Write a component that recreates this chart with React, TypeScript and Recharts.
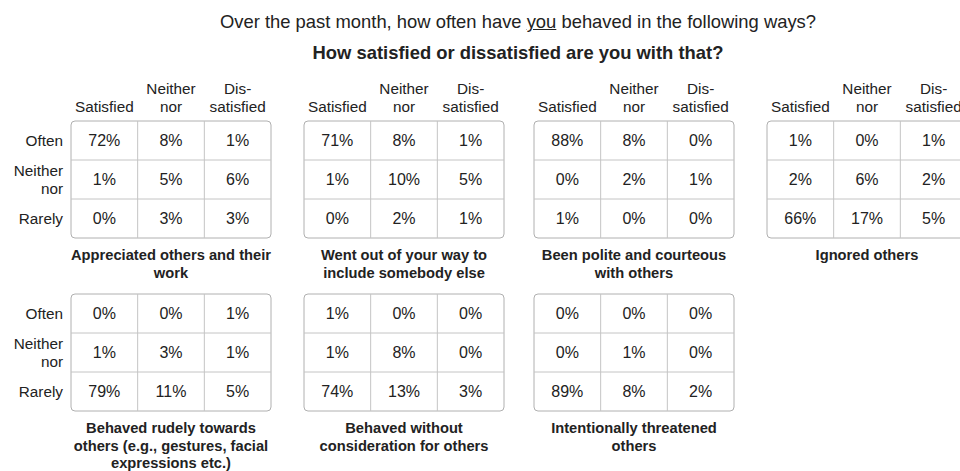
import React from "react";
import { ScatterChart, Scatter, XAxis, YAxis, ReferenceArea, ReferenceLine } from "recharts";

const columnLabels = ["Satisfied", "Neither nor", "Dis-satisfied"];
const columnLines = [["", "Satisfied"], ["Neither", "nor"], ["Dis-", "satisfied"]];
const rowLabels = ["Often", "Neither nor", "Rarely"];
const rowLines = [["Often"], ["Neither", "nor"], ["Rarely"]];

const appreciated = [[72, 8, 1], [1, 5, 6], [0, 3, 3]];
const includeSomebody = [[71, 8, 1], [1, 10, 5], [0, 2, 1]];
const polite = [[88, 8, 0], [0, 2, 1], [1, 0, 0]];
const ignored = [[1, 0, 1], [2, 6, 2], [66, 17, 5]];
const rude = [[0, 0, 1], [1, 3, 1], [79, 11, 5]];
const noConsideration = [[1, 0, 0], [1, 8, 0], [74, 13, 3]];
const threatened = [[0, 0, 0], [0, 1, 0], [89, 8, 2]];

const panelTitles = [
  ["Appreciated others and their", "work"],
  ["Went out of your way to", "include somebody else"],
  ["Been polite and courteous", "with others"],
  ["Ignored others"],
  ["Behaved rudely towards", "others (e.g., gestures, facial", "expressions etc.)"],
  ["Behaved without", "consideration for others"],
  ["Intentionally threatened", "others"],
];
const panelValues = [appreciated, includeSomebody, polite, ignored, rude, noConsideration, threatened];

const FONT = '"Liberation Sans", Arial, sans-serif';
const TEXT = "#222";
const BOX_LEFTS = [71, 304, 534, 767];
const BOX_TOPS = [121, 294];
const Y_AXIS_W = 71;
const HEADER_H = 60;
const PLOT_W = 200;
const PLOT_H = 117;
const LABEL_SIZE = 15.3;

function toCells(values: number[][]) {
  const out: { x: number; y: number; value: number; row: string; col: string }[] = [];
  values.forEach((r, ri) =>
    r.forEach((v, ci) => out.push({ x: ci + 0.5, y: ri + 0.5, value: v, row: rowLabels[ri], col: columnLabels[ci] }))
  );
  return out;
}

const CellText = (props: any) => {
  const { cx, cy, payload } = props;
  return (
    <text x={cx} y={cy} textAnchor="middle" dominantBaseline="central" fontSize={16} fill={TEXT} fontFamily={FONT}>
      {payload.value}%
    </text>
  );
};

function Panel({ idx, row, col, showHeader, showRows }: { idx: number; row: number; col: number; showHeader: boolean; showRows: boolean }) {
  const data = toCells(panelValues[idx]);
  const left = BOX_LEFTS[col] - Y_AXIS_W;
  const top = BOX_TOPS[row] - HEADER_H;
  const XTick = (p: any) => {
    if (!showHeader) return null;
    const i = Math.round(p.payload.value - 0.5);
    const lines = columnLines[i];
    return (
      <g>
        <text x={p.x} y={HEADER_H - 33} textAnchor="middle" dominantBaseline="central" fontSize={LABEL_SIZE} fill={TEXT} fontFamily={FONT}>{lines[0]}</text>
        <text x={p.x} y={HEADER_H - 15} textAnchor="middle" dominantBaseline="central" fontSize={LABEL_SIZE} fill={TEXT} fontFamily={FONT}>{lines[1]}</text>
      </g>
    );
  };
  const YTick = (p: any) => {
    if (!showRows) return null;
    const i = Math.round(p.payload.value - 0.5);
    const lines = rowLines[i];
    return (
      <g>
        {lines.map((l, k) => (
          <text key={k} x={Y_AXIS_W - 8} y={p.y + (k - (lines.length - 1) / 2) * 18} textAnchor="end" dominantBaseline="central" fontSize={LABEL_SIZE} fill={TEXT} fontFamily={FONT}>{l}</text>
        ))}
      </g>
    );
  };
  return (
    <div style={{ position: "absolute", left, top }}>
      <ScatterChart width={Y_AXIS_W + PLOT_W + 2} height={HEADER_H + PLOT_H + 2} margin={{ top: 0, right: 2, bottom: 2, left: 0 }}>
        <XAxis type="number" dataKey="x" domain={[0, 3]} ticks={[0.5, 1.5, 2.5]} orientation="top" height={HEADER_H} axisLine={false} tickLine={false} tick={XTick} interval={0} />
        <YAxis type="number" dataKey="y" domain={[0, 3]} ticks={[0.5, 1.5, 2.5]} reversed width={Y_AXIS_W} axisLine={false} tickLine={false} tick={YTick} interval={0} />
        <ReferenceLine x={1} stroke="#c4c4c4" strokeWidth={1} />
        <ReferenceLine x={2} stroke="#c4c4c4" strokeWidth={1} />
        <ReferenceLine y={1} stroke="#c4c4c4" strokeWidth={1} />
        <ReferenceLine y={2} stroke="#c4c4c4" strokeWidth={1} />
        <ReferenceArea x1={0} x2={3} y1={0} y2={3} fill="none" fillOpacity={0} stroke="#b0b0b0" strokeWidth={1} radius={4} strokeOpacity={1} />
        <Scatter data={data} isAnimationActive={false} shape={CellText} />
      </ScatterChart>
    </div>
  );
}

export default function App() {
  const layout = [
    { idx: 0, row: 0, col: 0 },
    { idx: 1, row: 0, col: 1 },
    { idx: 2, row: 0, col: 2 },
    { idx: 3, row: 0, col: 3 },
    { idx: 4, row: 1, col: 0 },
    { idx: 5, row: 1, col: 1 },
    { idx: 6, row: 1, col: 2 },
  ];
  return (
    <div style={{ position: "absolute", left: 0, top: 0, width: 960, height: 471, overflow: "hidden", background: "#fff", fontFamily: FONT, color: TEXT }}>
      <div style={{ position: "absolute", left: 0, width: 1036, top: 11, lineHeight: "22px", fontSize: 18.4, textAlign: "center", whiteSpace: "nowrap" }}>
        Over the past month, how often have <span style={{ textDecoration: "underline" }}>you</span> behaved in the following ways?
      </div>
      <div style={{ position: "absolute", left: 0, width: 1036, top: 42, lineHeight: "22px", fontSize: 18.4, fontWeight: "bold", textAlign: "center", whiteSpace: "nowrap" }}>
        How satisfied or dissatisfied are you with that?
      </div>
      {layout.map((p) => (
        <Panel key={p.idx} idx={p.idx} row={p.row} col={p.col} showHeader={p.row === 0} showRows={p.col === 0} />
      ))}
      {layout.map((p) => (
        <div key={"t" + p.idx} style={{ position: "absolute", left: BOX_LEFTS[p.col] - 20, width: PLOT_W + 40, top: (p.row === 0 ? 247 : 420), fontSize: 14.7, lineHeight: "17.5px", fontWeight: "bold", textAlign: "center" }}>
          {panelTitles[p.idx].map((l, k) => (<div key={k}>{l}</div>))}
        </div>
      ))}
    </div>
  );
}
